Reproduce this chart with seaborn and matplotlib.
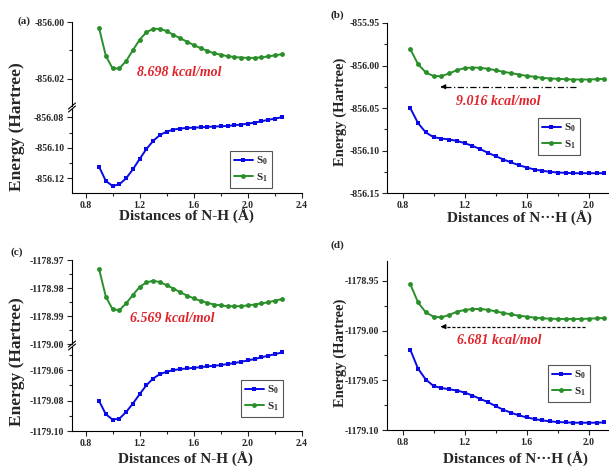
"""
Potential energy curves of S0 / S1 along N-H and N...H distances (four panels).
"""

import numpy as np
import matplotlib
matplotlib.use("Agg")
import matplotlib.pyplot as plt
from matplotlib.ticker import MultipleLocator, FixedLocator, FormatStrFormatter
import seaborn as sns

# ==============================
# DATA
# ==============================
x_nh = [0.90, 0.95, 1.00, 1.05, 1.10, 1.15, 1.20, 1.25, 1.30, 1.35, 1.40, 1.45, 1.50, 1.55,
        1.60, 1.65, 1.70, 1.75, 1.80, 1.85, 1.90, 1.95, 2.00, 2.05, 2.10, 2.15, 2.20, 2.25]
x_nhh = [0.85, 0.90, 0.95, 1.00, 1.05, 1.10, 1.15, 1.20, 1.25, 1.30, 1.35, 1.40, 1.45,
         1.50, 1.55, 1.60, 1.65, 1.70, 1.75, 1.80, 1.85, 1.90, 1.95, 2.00, 2.05, 2.10]

a_s1 = [-856.0021, -856.0119, -856.0163, -856.0163, -856.0137, -856.0099, -856.0062,
        -856.0036, -856.0024, -856.0024, -856.0032, -856.0045, -856.0057, -856.0069,
        -856.0081, -856.0092, -856.0101, -856.0110, -856.0115, -856.0120, -856.0123,
        -856.0125, -856.0126, -856.0126, -856.0124, -856.0121, -856.0117, -856.0113]
a_s0 = [-856.1124, -856.1217, -856.1250, -856.1239, -856.1200, -856.1141, -856.1073,
        -856.1008, -856.0955, -856.0916, -856.0894, -856.0881, -856.0874, -856.0870,
        -856.0868, -856.0866, -856.0863, -856.0861, -856.0859, -856.0857, -856.0852,
        -856.0848, -856.0842, -856.0835, -856.0826, -856.0817, -856.0809, -856.0800]

b_s1 = [-855.9808, -855.9984, -856.0082, -856.0125, -856.0125, -856.0094, -856.0055,
        -856.0031, -856.0024, -856.0027, -856.0039, -856.0055, -856.0075, -856.0090,
        -856.0106, -856.0122, -856.0133, -856.0145, -856.0153, -856.0157, -856.0161,
        -856.0165, -856.0165, -856.0165, -856.0161, -856.0157]
b_s0 = [-856.0502, -856.0678, -856.0788, -856.0843, -856.0859, -856.0871, -856.0886,
        -856.0914, -856.0945, -856.0984, -856.1027, -856.1067, -856.1106, -856.1141,
        -856.1173, -856.1200, -856.1224, -856.1239, -856.1251, -856.1259, -856.1263,
        -856.1267, -856.1267, -856.1267, -856.1267, -856.1267]

c_s1 = [-1178.9732, -1178.9831, -1178.9876, -1178.9879, -1178.9855, -1178.9825, -1178.9796,
        -1178.9780, -1178.9774, -1178.9779, -1178.9790, -1178.9802, -1178.9815, -1178.9827,
        -1178.9837, -1178.9846, -1178.9853, -1178.9859, -1178.9862, -1178.9865, -1178.9865,
        -1178.9865, -1178.9862, -1178.9859, -1178.9855, -1178.9851, -1178.9845, -1178.9840]
c_s0 = [-1179.0802, -1179.0890, -1179.0925, -1179.0919, -1179.0875, -1179.0820, -1179.0758,
        -1179.0699, -1179.0655, -1179.0626, -1179.0611, -1179.0600, -1179.0593, -1179.0589,
        -1179.0585, -1179.0580, -1179.0576, -1179.0571, -1179.0567, -1179.0560, -1179.0554,
        -1179.0545, -1179.0536, -1179.0527, -1179.0516, -1179.0505, -1179.0495, -1179.0484]

d_s1 = [-1178.9533, -1178.9717, -1178.9817, -1178.9860, -1178.9867, -1178.9843, -1178.9810,
        -1178.9793, -1178.9783, -1178.9783, -1178.9790, -1178.9807, -1178.9823, -1178.9837,
        -1178.9850, -1178.9860, -1178.9870, -1178.9877, -1178.9880, -1178.9883, -1178.9883,
        -1178.9883, -1178.9883, -1178.9880, -1178.9877, -1178.9873]
d_s0 = [-1179.0193, -1179.0383, -1179.0493, -1179.0557, -1179.0577, -1179.0590, -1179.0603,
        -1179.0623, -1179.0653, -1179.0687, -1179.0720, -1179.0760, -1179.0797, -1179.0827,
        -1179.0853, -1179.0873, -1179.0890, -1179.0903, -1179.0913, -1179.0920, -1179.0923,
        -1179.0927, -1179.0927, -1179.0927, -1179.0927, -1179.0923]

barriers = ["8.698 kcal/mol", "9.016 kcal/mol", "6.569 kcal/mol", "6.681 kcal/mol"]
state_labels = [r"$\mathbf{S_0}$", r"$\mathbf{S_1}$"]
x_major_left = [0.8, 1.2, 1.6, 2.0, 2.4]
x_major_right = [0.8, 1.2, 1.6, 2.0]

# ==============================
# STYLE
# ==============================
W, H = 609, 468
BLUE = "#0a0ae6"
GREEN = "#2a8f2a"
RED = "#e0232b"

sns.set_style("ticks")
plt.rcParams["font.family"] = ["Liberation Serif", "DejaVu Serif"]
plt.rcParams["font.weight"] = "bold"
plt.rcParams["axes.unicode_minus"] = False
plt.rcParams["mathtext.fontset"] = "custom"
plt.rcParams["mathtext.rm"] = "Liberation Serif"
plt.rcParams["mathtext.bf"] = "Liberation Serif:bold"


def box(l, t, r, b):
    """Pixel box -> figure fraction rect."""
    return [l / W, 1 - b / H, (r - l) / W, (b - t) / H]


def style_axis(ax, ymaj, ymin, xmajor, xaxis=True):
    for s in ["top", "right"]:
        ax.spines[s].set_visible(False)
    for s in ["left", "bottom"]:
        ax.spines[s].set_linewidth(0.8)
        ax.spines[s].set_color("black")
    ax.yaxis.set_major_locator(MultipleLocator(ymaj))
    ax.yaxis.set_minor_locator(MultipleLocator(ymin))
    ax.yaxis.set_major_formatter(FormatStrFormatter("%.2f"))
    ax.xaxis.set_major_locator(FixedLocator(xmajor))
    ax.xaxis.set_minor_locator(MultipleLocator(0.2))
    ax.xaxis.set_major_formatter(FormatStrFormatter("%.1f"))
    ax.tick_params(which="major", direction="out", length=3.5, width=0.8, labelsize=7, pad=2)
    ax.tick_params(which="minor", direction="out", length=2, width=0.8)
    if not xaxis:
        ax.spines["bottom"].set_visible(False)
        ax.tick_params(axis="x", which="both", bottom=False, labelbottom=False)
    ax.set_xlim(0.7, 2.4)


def draw(ax, x, y, color, marker):
    sns.lineplot(x=x, y=y, ax=ax, color=color, marker=marker, markersize=3.5,
                 markeredgewidth=0, linewidth=1.4, legend=False)
    return ax.lines[-1]


def add_legend(ax, handles, px, py):
    leg = ax.legend(handles, state_labels, loc="upper left",
                    bbox_to_anchor=(px / W, 1 - py / H), bbox_transform=ax.figure.transFigure,
                    borderaxespad=0, fontsize=8, handlelength=1.7, handletextpad=0.3,
                    borderpad=0.35, labelspacing=0.35, fancybox=False, framealpha=1)
    leg.get_frame().set_edgecolor("#555555")
    leg.get_frame().set_linewidth(0.8)


def break_marks(ax_up, ax_lo):
    dx, dy = 3.5 / 230, 3.0 / 84
    kw = dict(color="black", lw=0.8, clip_on=False)
    ax_up.plot([-dx, dx], [-dy, dy], transform=ax_up.transAxes, **kw)
    ax_lo.plot([-dx, dx], [1 - dy, 1 + dy], transform=ax_lo.transAxes, **kw)


def arrow(ax, x0, x1, y, ls):
    ax.plot([x0, x1], [y, y], color="black", lw=0.9, linestyle=ls)
    ax.annotate("", xy=(x1, y), xytext=(x1 + 0.03, y),
                arrowprops=dict(arrowstyle="-|>", color="black", lw=0.8, mutation_scale=7))


def broken_panel(fig, top, mid, bot, up_lim, lo_lim, up_tick, lo_tick, s1, s0,
                 text, text_xy, leg_xy):
    ax_up = fig.add_axes(box(72, top, 302, mid))
    ax_lo = fig.add_axes(box(72, mid + 3, 302, bot))
    style_axis(ax_up, *up_tick, x_major_left, xaxis=False)
    style_axis(ax_lo, *lo_tick, x_major_left)
    h1 = draw(ax_up, x_nh, s1, GREEN, "o")
    h0 = draw(ax_lo, x_nh, s0, BLUE, "s")
    ax_up.set_ylim(*up_lim)
    ax_lo.set_ylim(*lo_lim)
    break_marks(ax_up, ax_lo)
    ax_up.text(*text_xy, text, color=RED, fontsize=10, fontstyle="italic",
               fontweight="bold", ha="center", va="center")
    add_legend(ax_lo, [h0, h1], *leg_xy)
    for a in (ax_up, ax_lo):
        a.set_xlabel("")
        a.set_ylabel("")
    return ax_up, ax_lo


def plain_panel(fig, top, bot, ylim, s1, s0, text, text_xy, arr, leg_xy):
    # the right-hand panels run past the image edge (cropped at about x = 2.1)
    ax = fig.add_axes(box(387, top, 651, bot))
    style_axis(ax, 0.05, 0.025, x_major_right)
    h1 = draw(ax, x_nhh, s1, GREEN, "o")
    h0 = draw(ax, x_nhh, s0, BLUE, "s")
    ax.set_ylim(*ylim)
    ax.set_xlim(0.7, 2.4)
    arrow(ax, *arr)
    ax.text(*text_xy, text, color=RED, fontsize=10, fontstyle="italic",
            fontweight="bold", ha="center", va="center")
    add_legend(ax, [h0, h1], *leg_xy)
    ax.set_xlabel("")
    ax.set_ylabel("")
    return ax


def main():
    fig = plt.figure(figsize=(W / 100, H / 100), dpi=100)

    # (a)
    broken_panel(fig, 22, 106, 193, (-856.0295, -856.0), (-856.1296, -856.0746),
                 (0.02, 0.01), (0.02, 0.01), a_s1, a_s0, barriers[0],
                 (1.49, -856.0178), (230, 151))
    # (b)
    plain_panel(fig, 23, 193, (-856.15, -855.95), b_s1, b_s0, barriers[1],
                (1.416, -856.042), (1.92, 1.045, -856.025, (0, (5, 2, 1, 2))), (538, 118))
    # (c)
    broken_panel(fig, 260, 344, 431, (-1179.0, -1178.97), (-1179.10, -1179.0448),
                 (0.01, 0.005), (0.02, 0.01), c_s1, c_s0, barriers[2],
                 (1.44, -1178.9908), (241, 380))
    # (d)
    plain_panel(fig, 261, 430, (-1179.10, -1178.93), d_s1, d_s0, barriers[3],
                (1.42, -1179.010), (1.973, 1.046, -1178.996, (0, (2.5, 1.5))), (548, 365))

    # panel tags and axis titles
    for tag, (px, py) in zip(["(a)", "(b)", "(c)", "(d)"],
                             [(24, 21), (337, 15), (17, 252), (337, 245)]):
        fig.text(px / W, 1 - py / H, tag, fontsize=8, ha="center", va="center")
    for (px, py), fs in zip([(17, 127), (340, 112), (17, 362), (340, 353)],
                            [12.5, 10.5, 12.5, 10.5]):
        fig.text(px / W, 1 - py / H, "Energy (Hartree)", rotation=90, fontsize=fs,
                 ha="center", va="center")
    for (px, py), lbl in zip([(186, 216), (519, 218), (185, 459), (515, 459)],
                             ["Distances of N-H (Å)", "Distances of N\u00b7\u00b7\u00b7H (Å)",
                              "Distances of N-H (Å)", "Distances of N\u00b7\u00b7\u00b7H (Å)"]):
        fig.text(px / W, 1 - py / H, lbl, fontsize=11, ha="center", va="center")

    fig.savefig("out.png", dpi=100)


if __name__ == "__main__":
    main()
